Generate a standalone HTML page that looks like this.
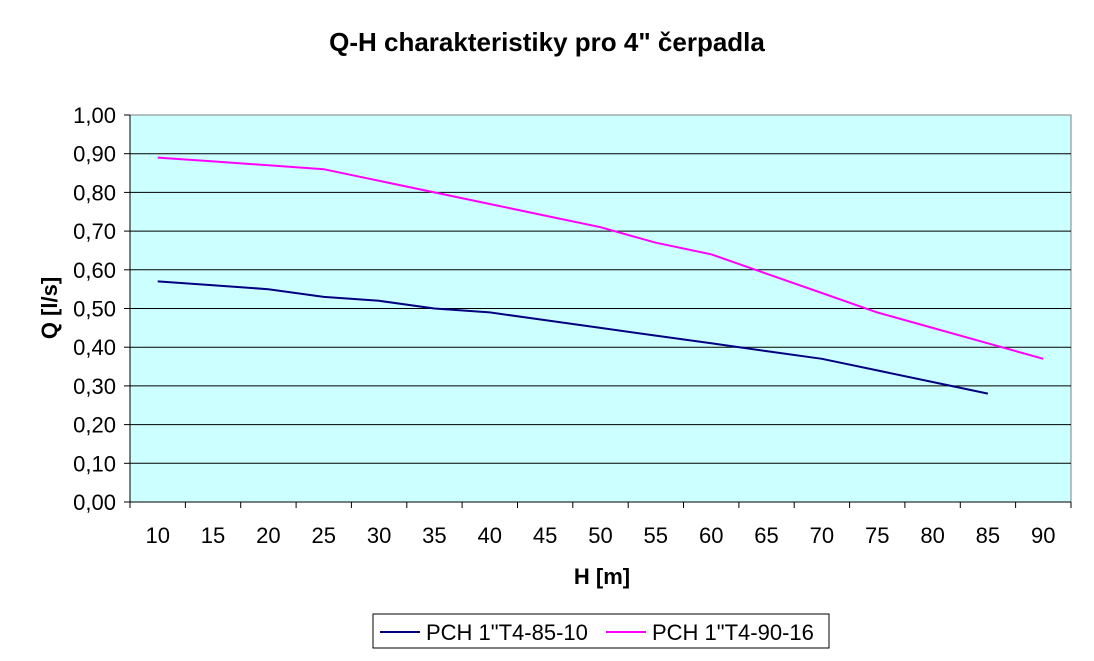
<!DOCTYPE html>
<html><head><meta charset="utf-8"><style>body{margin:0;background:#fff}svg{display:block}</style></head>
<body>
<svg width="1094" height="661" xmlns="http://www.w3.org/2000/svg" font-family="Liberation Sans, Arial, sans-serif">
<rect width="1094" height="661" fill="#fff"/>
<text x="547" y="51" text-anchor="middle" font-size="26" font-weight="bold">Q-H charakteristiky pro 4" čerpadla</text>
<rect x="130" y="115" width="941" height="387" fill="#ccffff" stroke="#808080" stroke-width="1"/>
<g stroke="#000" stroke-width="1">
<line x1="130" y1="153.7" x2="1071" y2="153.7"/><line x1="130" y1="192.4" x2="1071" y2="192.4"/>
<line x1="130" y1="231.1" x2="1071" y2="231.1"/><line x1="130" y1="269.8" x2="1071" y2="269.8"/>
<line x1="130" y1="308.5" x2="1071" y2="308.5"/><line x1="130" y1="347.2" x2="1071" y2="347.2"/>
<line x1="130" y1="385.9" x2="1071" y2="385.9"/><line x1="130" y1="424.6" x2="1071" y2="424.6"/>
<line x1="130" y1="463.3" x2="1071" y2="463.3"/>
<line x1="130" y1="115" x2="130" y2="502"/><line x1="124" y1="502" x2="1071" y2="502"/>
<line x1="124" y1="115" x2="130" y2="115"/><line x1="124" y1="153.7" x2="130" y2="153.7"/><line x1="124" y1="192.4" x2="130" y2="192.4"/><line x1="124" y1="231.1" x2="130" y2="231.1"/><line x1="124" y1="269.8" x2="130" y2="269.8"/><line x1="124" y1="308.5" x2="130" y2="308.5"/><line x1="124" y1="347.2" x2="130" y2="347.2"/><line x1="124" y1="385.9" x2="130" y2="385.9"/><line x1="124" y1="424.6" x2="130" y2="424.6"/><line x1="124" y1="463.3" x2="130" y2="463.3"/>
</g>
<g stroke="#000" stroke-width="1">
<line x1="130" y1="502" x2="130" y2="508"/><line x1="185.4" y1="502" x2="185.4" y2="508"/><line x1="240.7" y1="502" x2="240.7" y2="508"/><line x1="296.1" y1="502" x2="296.1" y2="508"/><line x1="351.4" y1="502" x2="351.4" y2="508"/><line x1="406.8" y1="502" x2="406.8" y2="508"/><line x1="462.1" y1="502" x2="462.1" y2="508"/><line x1="517.5" y1="502" x2="517.5" y2="508"/><line x1="572.8" y1="502" x2="572.8" y2="508"/><line x1="628.2" y1="502" x2="628.2" y2="508"/><line x1="683.5" y1="502" x2="683.5" y2="508"/><line x1="738.9" y1="502" x2="738.9" y2="508"/><line x1="794.2" y1="502" x2="794.2" y2="508"/><line x1="849.6" y1="502" x2="849.6" y2="508"/><line x1="904.9" y1="502" x2="904.9" y2="508"/><line x1="960.3" y1="502" x2="960.3" y2="508"/><line x1="1015.6" y1="502" x2="1015.6" y2="508"/><line x1="1071" y1="502" x2="1071" y2="508"/>
</g>
<g font-size="22" text-anchor="end">
<text x="116" y="123">1,00</text><text x="116" y="161.7">0,90</text><text x="116" y="200.4">0,80</text><text x="116" y="239.1">0,70</text><text x="116" y="277.8">0,60</text><text x="116" y="316.5">0,50</text><text x="116" y="355.2">0,40</text><text x="116" y="393.9">0,30</text><text x="116" y="432.6">0,20</text><text x="116" y="471.3">0,10</text><text x="116" y="510">0,00</text>
</g>
<g font-size="22" text-anchor="middle">
<text x="157.7" y="543">10</text><text x="213" y="543">15</text><text x="268.4" y="543">20</text><text x="323.7" y="543">25</text><text x="379.1" y="543">30</text><text x="434.4" y="543">35</text><text x="489.8" y="543">40</text><text x="545.1" y="543">45</text><text x="600.5" y="543">50</text><text x="655.8" y="543">55</text><text x="711.2" y="543">60</text><text x="766.5" y="543">65</text><text x="821.9" y="543">70</text><text x="877.2" y="543">75</text><text x="932.6" y="543">80</text><text x="987.9" y="543">85</text><text x="1043.3" y="543">90</text>
</g>
<text x="602" y="584" text-anchor="middle" font-size="22" font-weight="bold">H [m]</text>
<text transform="translate(57,308) rotate(-90)" text-anchor="middle" font-size="22" font-weight="bold">Q [l/s]</text>
<polyline fill="none" stroke="#000080" stroke-width="2" points="157.7,281.4 213,285.3 268.4,289.2 323.7,296.9 379.1,300.8 434.4,308.5 489.8,312.4 545.1,320.1 600.5,327.9 655.8,335.6 711.2,343.3 766.5,351.1 821.9,358.8 877.2,370.4 932.6,382 987.9,393.6"/>
<polyline fill="none" stroke="#ff00ff" stroke-width="2" points="157.7,157.6 213,161.4 268.4,165.3 323.7,169.2 379.1,180.8 434.4,192.4 489.8,204 545.1,215.6 600.5,227.2 655.8,242.7 711.2,254.3 766.5,273.7 821.9,293 877.2,312.4 932.6,327.9 987.9,343.3 1043.3,358.8"/>
<rect x="373" y="614" width="456" height="34" fill="#fff" stroke="#000" stroke-width="1"/>
<line x1="380" y1="632" x2="420" y2="632" stroke="#000080" stroke-width="2"/>
<text x="426" y="640" font-size="22">PCH 1"T4-85-10</text>
<line x1="606" y1="632" x2="646" y2="632" stroke="#ff00ff" stroke-width="2"/>
<text x="652" y="640" font-size="22">PCH 1"T4-90-16</text>
</svg>
</body></html>
